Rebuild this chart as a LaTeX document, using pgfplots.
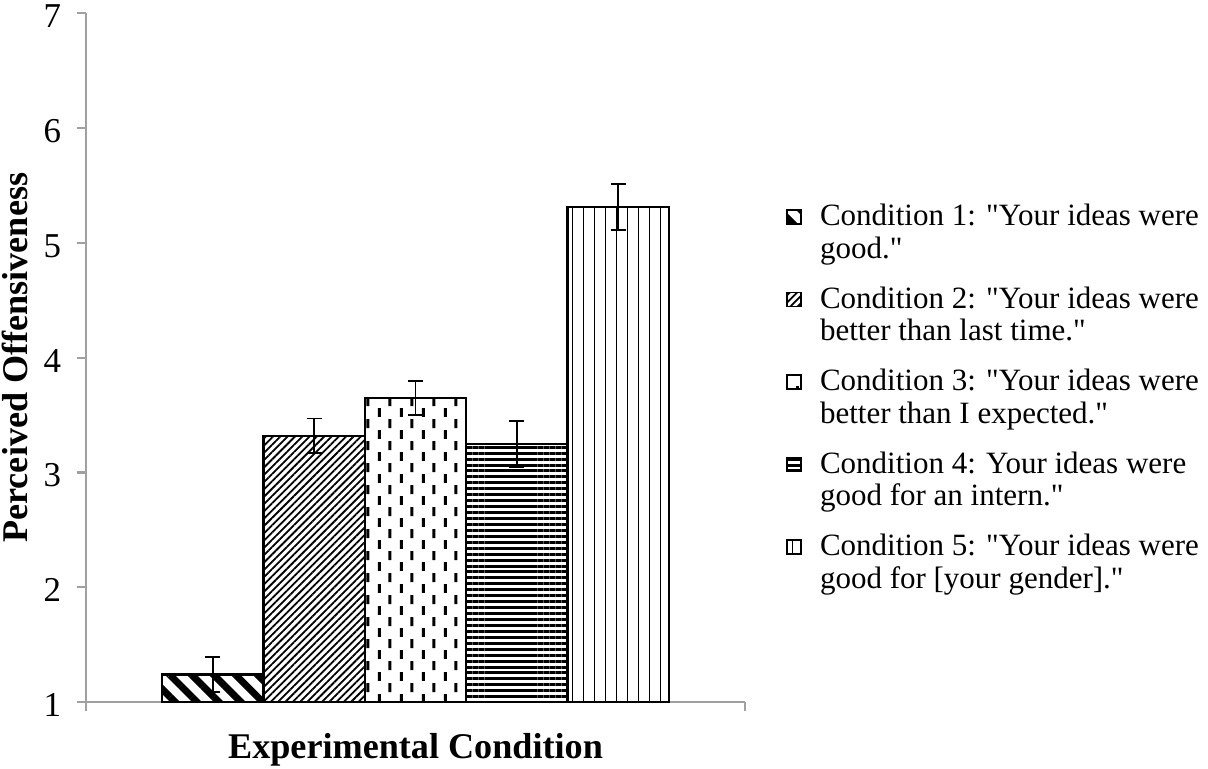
\documentclass[border=0pt]{standalone}
\usepackage{pgfplots}
\pgfplotsset{compat=1.18}
\usepackage{fontspec}
\setmainfont{Liberation Serif}
\usetikzlibrary{patterns.meta}
\definecolor{axgray}{RGB}{160,160,160}

% staggered short vertical dashes (condition 3)
\pgfdeclarepattern{
  name=vdash, type=uncolored,
  bottom left={\pgfpoint{0pt}{0pt}}, top right={\pgfpoint{8.52pt}{8.5pt}},
  tile size={\pgfpoint{8.52pt}{8.5pt}},
  code={
    \pgfsetlinewidth{1.2pt}
    \pgfpathmoveto{\pgfpoint{2.13pt}{0pt}}\pgfpathlineto{\pgfpoint{2.13pt}{3.4pt}}
    \pgfpathmoveto{\pgfpoint{6.39pt}{4.25pt}}\pgfpathlineto{\pgfpoint{6.39pt}{7.65pt}}
    \pgfusepath{stroke}
  }
}

\pgfplotsset{
  sqlegend/.style={legend image code/.code={
    \draw[##1,line width=0.6pt] (0pt,3.5pt) rectangle (5.4pt,8.9pt);}},
  cond/.style={ybar, bar width=1, bar shift=0pt, draw=black, line width=0.9pt,
    pattern color=black, #1, sqlegend,
    error bars/.cd, y dir=both, y explicit,
    error bar style={black, line width=0.7pt},
    error mark options={rotate=90, mark size=2.9pt, line width=0.7pt, black}},
}
\newcommand{\q}{\textquotedbl}

\begin{document}
\begin{tikzpicture}
\path[use as bounding box] (0,0) rectangle (467.6pt,297.3pt);
\begin{axis}[
  at={(33.3pt,25.5pt)}, anchor=south west,
  scale only axis, width=255.1pt, height=266.7pt,
  xmin=-0.25, xmax=6.25, ymin=1, ymax=7,
  axis lines*=left,
  axis line style={axgray, line width=0.8pt},
  tick style={axgray, line width=0.8pt},
  major tick length=3.6pt, tick align=outside,
  xtick={-0.25,6.25}, xticklabels={},
  ytick={1,2,3,4,5,6,7},
  /pgf/number format/assume math mode=true,
  ticklabel style={font=\fontsize{13.5}{16}\selectfont},
  yticklabel style={xshift=-2.5pt, yshift=-1.2pt},
  xlabel={Experimental Condition},
  ylabel={Perceived Offensiveness},
  every axis x label/.style={at={(axis description cs:0.5,-0.069)}, anchor=center,
    font=\fontsize{14}{16}\selectfont\bfseries},
  every axis y label/.style={at={(axis description cs:-0.108,0.5)}, anchor=center, rotate=90,
    font=\fontsize{14}{16}\selectfont\bfseries},
  legend cell align=left,
  legend style={draw=none, fill=none, at={(axis description cs:1.062,0.731)},
    anchor=north west, inner sep=0pt, row sep=5.5pt,
    font=\fontsize{12}{12.6}\selectfont, cells={align=left},
    /tikz/every odd column/.append style={column sep=5pt}},
]
\addplot[cond={pattern={Lines[angle=-45,distance=6pt,line width=2.7pt]}}]
  coordinates {(1,1.24) +- (0,0.15)};
\addlegendentry{Condition 1: \q Your ideas were\\good.\q}
\addplot[cond={pattern={Lines[angle=45,distance=2pt,line width=0.7pt]}}]
  coordinates {(2,3.32) +- (0,0.15)};
\addlegendentry{Condition 2: \q Your ideas were\\better than last time.\q}
\addplot[cond={pattern=vdash}]
  coordinates {(3,3.65) +- (0,0.15)};
\addlegendentry{Condition 3: \q Your ideas were\\better than I expected.\q}
\addplot[cond={pattern={Lines[angle=0,distance=2.3pt,line width=1.15pt]}}]
  coordinates {(4,3.25) +- (0,0.2)};
\addlegendentry{Condition 4: Your ideas were\\good for an intern.\q}
\addplot[cond={pattern={Lines[angle=90,distance=4.26pt,line width=0.6pt]}}]
  coordinates {(5,5.31) +- (0,0.2)};
\addlegendentry{Condition 5: \q Your ideas were\\good for [your gender].\q}
\end{axis}
\end{tikzpicture}
\end{document}
